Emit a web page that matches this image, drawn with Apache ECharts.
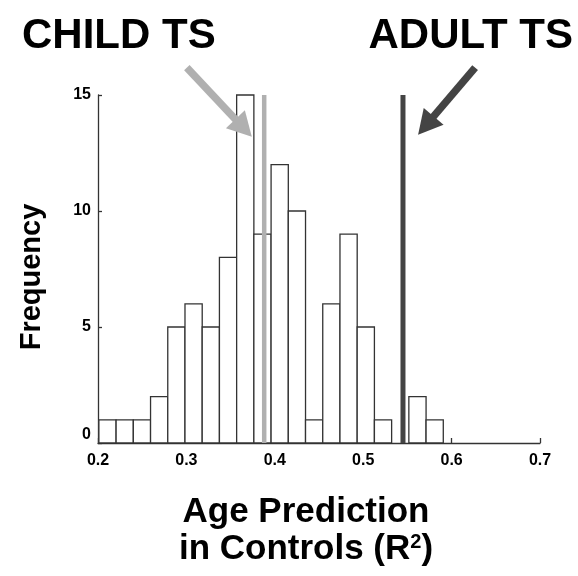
<!DOCTYPE html>
<html><head><meta charset="utf-8">
<script src="https://cdn.jsdelivr.net/npm/echarts@6/dist/echarts.min.js"></script>
<style>html,body{margin:0;padding:0;background:#fff}#c{width:578px;height:576px}</style>
</head><body><div id="c"></div>
<script>
// Histogram bins (start of first bin, bin width) and counts
const binStart = 0.201;
const binWidth = 0.01948;
const counts = [1, 1, 1, 2, 5, 6, 5, 8, 15, 9, 12, 10, 1, 6, 9, 5, 1, 0, 2, 1];
const xTicks = [0.2, 0.3, 0.4, 0.5, 0.6, 0.7];
const yTicks = [0, 5, 10, 15];
// Reference markers
const markerNames = ['CHILD TS', 'ADULT TS'];
const markerValues = [0.388, 0.545];
const markerColors = ['#b0b0b0', '#444444'];
const arrowStarts = [[0.3005, 16.18], [0.6266, 16.18]];
const arrowEnds = [[0.374, 13.2], [0.5621, 13.29]];

const FONT = 'Liberation Sans, Arial, sans-serif';
const yMax = yTicks[yTicks.length - 1];

const barData = counts.map((c, i) => [binStart + i * binWidth, binStart + (i + 1) * binWidth, c]);
const lineData = markerValues.map(v => [v, 0, yMax]);
const arrowData = arrowStarts.map((s, i) => [s[0], s[1], arrowEnds[i][0], arrowEnds[i][1]]);

function renderBar(params, api) {
  if (api.value(2) <= 0) return;
  const p0 = api.coord([api.value(0), api.value(2)]);
  const p1 = api.coord([api.value(1), 0]);
  return {
    type: 'rect',
    shape: { x: p0[0], y: p0[1], width: p1[0] - p0[0], height: p1[1] - p0[1] },
    style: { fill: '#ffffff', stroke: '#333333', lineWidth: 1.3 }
  };
}
function renderVLine(params, api) {
  const a = api.coord([api.value(0), api.value(1)]);
  const b = api.coord([api.value(0), api.value(2)]);
  return {
    type: 'line',
    shape: { x1: a[0], y1: a[1], x2: b[0], y2: b[1] },
    style: { stroke: markerColors[params.dataIndex], lineWidth: params.dataIndex === 0 ? 4.5 : 5 }
  };
}
function renderArrow(params, api) {
  const s = api.coord([api.value(0), api.value(1)]);
  const e = api.coord([api.value(2), api.value(3)]);
  const color = markerColors[params.dataIndex];
  const dx = e[0] - s[0], dy = e[1] - s[1];
  const L = Math.hypot(dx, dy), ux = dx / L, uy = dy / L;
  const headLen = 24, headW = 13;
  const b = [e[0] - ux * headLen, e[1] - uy * headLen];
  const nx = -uy, ny = ux;
  return {
    type: 'group',
    children: [
      { type: 'line', shape: { x1: s[0], y1: s[1], x2: b[0] + ux * 3, y2: b[1] + uy * 3 },
        style: { stroke: color, lineWidth: 7.5 } },
      { type: 'polygon', shape: { points: [[e[0], e[1]], [b[0] + nx * headW, b[1] + ny * headW], [b[0] - nx * headW, b[1] - ny * headW]] },
        style: { fill: color } }
    ]
  };
}

const chart = echarts.init(document.getElementById('c'), null, { renderer: 'canvas' });
const axisColor = '#333333';
chart.setOption({
  animation: false,
  backgroundColor: '#ffffff',
  title: [
    { text: markerNames[0], left: 17, top: 10, textStyle: { fontFamily: FONT, fontSize: 42, fontWeight: 'bold', color: '#000' } },
    { text: markerNames[1], right: 0, top: 10, textStyle: { fontFamily: FONT, fontSize: 42, fontWeight: 'bold', color: '#000' } }
  ],
  grid: { left: 98, right: 38, top: 95, bottom: 133, containLabel: false },
  xAxis: {
    type: 'value', min: xTicks[0], max: xTicks[xTicks.length - 1], interval: 0.1,
    axisLine: { show: true, lineStyle: { color: axisColor, width: 1.3 } },
    axisTick: { show: true, inside: true, length: 5, lineStyle: { color: axisColor, width: 1.3 } },
    splitLine: { show: false },
    axisLabel: { color: '#000', fontFamily: FONT, fontWeight: 'bold', fontSize: 16, margin: 10,
      formatter: v => v.toFixed(1) },
    name: 'Age Prediction\nin Controls (R{sup|2})',
    nameLocation: 'middle', nameGap: 51,
    nameTextStyle: { color: '#000', fontFamily: FONT, fontWeight: 'bold', fontSize: 35, lineHeight: 37,
      padding: [0, 26, 0, 0],
      rich: { sup: { color: '#000', fontFamily: FONT, fontWeight: 'bold', fontSize: 20, lineHeight: 37, padding: [0, 0, 14, 0] } } }
  },
  yAxis: {
    type: 'value', min: yTicks[0], max: yMax, interval: 5,
    axisLine: { show: true, lineStyle: { color: axisColor, width: 1.3 } },
    axisTick: { show: true, inside: true, length: 4, lineStyle: { color: axisColor, width: 1.3 } },
    splitLine: { show: false },
    axisLabel: { color: '#000', fontFamily: FONT, fontWeight: 'bold', fontSize: 16, margin: 7, verticalAlignMinLabel: 'bottom' },
    name: 'Frequency', nameLocation: 'middle', nameGap: 52, nameRotate: 90,
    nameTextStyle: { color: '#000', fontFamily: FONT, fontWeight: 'bold', fontSize: 29, padding: [0, 16, 0, 0] }
  },
  series: [
    { type: 'custom', name: 'Controls', renderItem: renderBar, data: barData, encode: { x: [0, 1], y: 2 }, z: 2, silent: true },
    { type: 'custom', name: 'Markers', renderItem: renderVLine, data: lineData, encode: { x: 0, y: [1, 2] }, z: 3, silent: true },
    { type: 'custom', name: 'Arrows', renderItem: renderArrow, data: arrowData, encode: { x: [0, 2], y: [1, 3] }, z: 4, clip: false, silent: true }
  ]
});
</script>
</body></html>
